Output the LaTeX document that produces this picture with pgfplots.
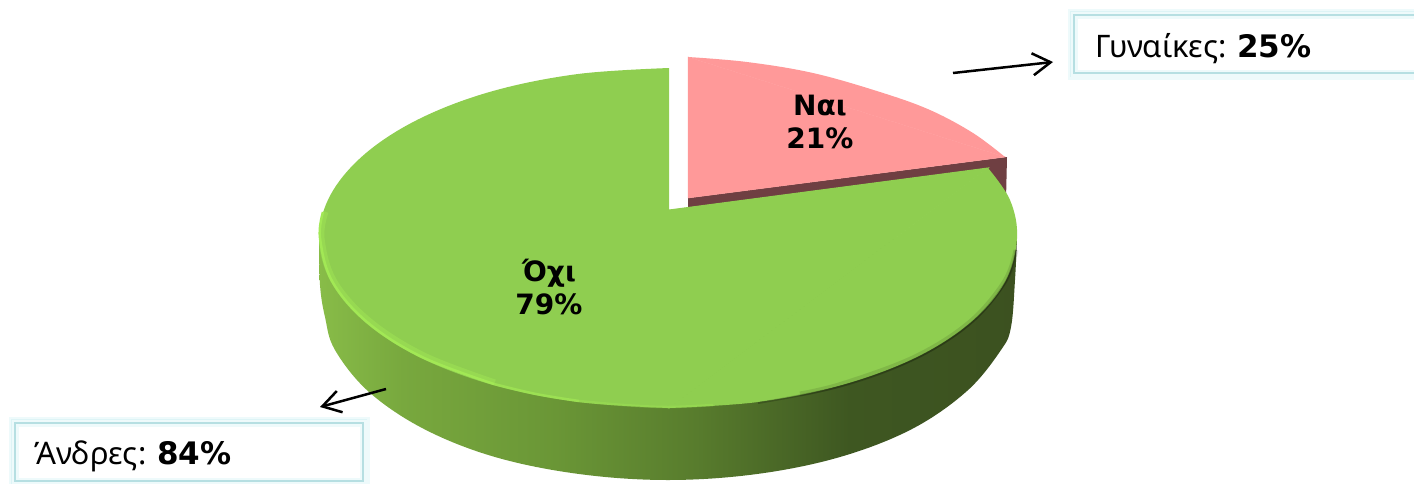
\documentclass[border=0pt]{standalone}
\usepackage{fontspec}
\setmainfont{DejaVu Sans}
\newfontfamily\regfont{Noto Sans}
\usepackage{pgfplots}
\pgfplotsset{compat=1.18}
\usetikzlibrary{arrows.meta}
\definecolor{topgreen}{HTML}{8FCE50}
\definecolor{rimgreen}{HTML}{A2E855}
\definecolor{toppink}{HTML}{FF9999}
\definecolor{sidepink}{HTML}{6F3F42}
\definecolor{boxline}{HTML}{B6DFE2}
\definecolor{boxglow}{HTML}{DDF4F6}
\definecolor{boxglowb}{HTML}{EEFAFB}
\definecolor{sgA}{HTML}{88BC48}
\definecolor{sgB}{HTML}{78A83E}
\definecolor{sgC}{HTML}{6A9636}
\definecolor{sgD}{HTML}{587C2D}
\definecolor{sgE}{HTML}{3E5721}
\definecolor{sgF}{HTML}{3C5120}
\pgfdeclarehorizontalshading{greenside}{100bp}{
  color(0bp)=(sgA); color(25bp)=(sgA);
  color(31bp)=(sgB); color(42bp)=(sgC);
  color(52bp)=(sgD); color(63bp)=(sgE);
  color(75bp)=(sgF); color(100bp)=(sgF)}
\begin{document}
\begin{tikzpicture}
\useasboundingbox (0,0) rectangle (1414pt,483pt);
\begin{axis}[
    at={(0,0)},
    anchor=south west,
    scale only axis,
    width=1414pt,
    height=483pt,
    xmin=0, xmax=1414,
    ymin=0, ymax=483,
    y dir=reverse,
    hide axis,
    every axis plot/.append style={tension=0.6},
]
% side wall of the green slice
\addplot[draw=none, shade, shading=greenside, smooth] coordinates {
    (319,238) (320,285) (325,317) (335,350) (369,392) (424,429) (495,457)
    (579,474) (668,480) (757,474) (840,457) (912,429) (967,391) (1001,350)
    (1011,327) (1015,280) (1017,238)
};
% pink slice
\addplot[draw=none, fill=sidepink] coordinates {
    (688,198) (1006,157) (1007,157) (1006,200) (988,168) (688,208)
} -- cycle;
\addplot[draw=none, fill=toppink, smooth] coordinates {
    (688,57) (747,62) (813,73) (880,92) (930,110) (973,133) (1005,157)
};
\addplot[fill=toppink, draw=toppink, line width=0.5pt] coordinates {
    (688,57) (688,198) (1005,157)
} -- cycle;
% green top face: left half, right arc, and the piece that joins them
\addplot[draw=none, fill=topgreen, smooth] coordinates {
    (669,68) (578,74) (493,91) (421,118) (366,153) (331,194) (319,238)
    (331,282) (366,323) (421,358) (493,385) (578,402) (669,408)
};
\addplot[draw=none, fill=topgreen, smooth] coordinates {
    (669,408) (758,402) (842,385) (915,358) (970,323) (1005,282) (1017,238)
    (1010,200) (988,168)
};
\addplot[fill=topgreen, draw=topgreen, line width=1pt] coordinates {
    (669,210) (988,168) (669,408)
} -- cycle;
% edge light and shadow
\addplot[rimgreen, opacity=0.45, line width=5pt, smooth] coordinates {
    (326,212) (322,238) (334,280) (369,320) (424,355) (495,382)
};
\addplot[rimgreen, line width=2.5pt, smooth] coordinates {
    (323,212) (320,238) (332,281) (367,322) (422,357) (494,384)
};
\addplot[rimgreen, opacity=0.7, line width=2.5pt, smooth] coordinates {
    (494,384) (536,394) (579,401)
};
\addplot[rimgreen, opacity=0.35, line width=2.5pt, smooth] coordinates {
    (579,401) (624,405) (668,407) (713,405)
};
\addplot[black, opacity=0.10, line width=5pt, smooth] coordinates {
    (800,394) (842,384) (915,357) (970,322) (1005,281) (1016,250)
};
\addplot[black, opacity=0.2, line width=2pt, smooth] coordinates {
    (758,403) (842,386) (915,359) (970,324) (1005,283) (1016,250)
};
% arrows
\addplot[black, line width=2.5pt, -{Straight Barb[length=18pt,width=22pt,line width=2.5pt]}] coordinates {
    (953,73) (1053,62)
};
\addplot[black, line width=2.5pt, -{Straight Barb[length=18pt,width=22pt,line width=2.5pt]}] coordinates {
    (386,389) (320,407)
};
% callout boxes
\addplot[boxglowb, line width=13pt] coordinates {(1074,15) (1425,15) (1425,73) (1074,73)} -- cycle;
\addplot[boxglow, line width=8pt] coordinates {(1074,15) (1425,15) (1425,73) (1074,73)} -- cycle;
\addplot[white, fill=white, line width=0pt] coordinates {(1074,15) (1425,15) (1425,73) (1074,73)} -- cycle;
\addplot[boxglowb, line width=7pt] coordinates {(1074,15) (1425,15) (1425,73) (1074,73)} -- cycle;
\addplot[boxline, line width=2pt] coordinates {(1074,15) (1425,15) (1425,73) (1074,73)} -- cycle;
\addplot[boxglowb, line width=13pt] coordinates {(15,423) (363,423) (363,481) (15,481)} -- cycle;
\addplot[boxglow, line width=8pt] coordinates {(15,423) (363,423) (363,481) (15,481)} -- cycle;
\addplot[white, fill=white, line width=0pt] coordinates {(15,423) (363,423) (363,481) (15,481)} -- cycle;
\addplot[boxglowb, line width=7pt] coordinates {(15,423) (363,423) (363,481) (15,481)} -- cycle;
\addplot[boxline, line width=2pt] coordinates {(15,423) (363,423) (363,481) (15,481)} -- cycle;
% labels
\node[anchor=base west, inner sep=0pt] at (axis cs:1095,57)
    {\fontsize{31}{36}\selectfont\regfont Γυναίκες: \fontsize{31}{36}\selectfont\rmfamily\bfseries 25\%};
\node[anchor=base west, inner sep=0pt] at (axis cs:34,464)
    {\fontsize{31}{36}\selectfont\regfont Άνδρες: \fontsize{31}{36}\selectfont\rmfamily\bfseries 84\%};
\node[font=\fontsize{28}{33}\selectfont\bfseries, align=center, inner sep=0pt] at (axis cs:820,122) {Ναι\\21\%};
\node[font=\fontsize{28}{33}\selectfont\bfseries, align=center, inner sep=0pt] at (axis cs:549,287) {Όχι\\79\%};
\end{axis}
\end{tikzpicture}
\end{document}
